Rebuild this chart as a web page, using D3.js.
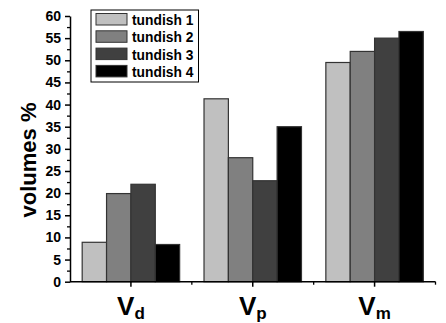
<!DOCTYPE html>
<html>
<head>
<meta charset="utf-8">
<script src="https://cdn.jsdelivr.net/npm/d3@7"></script>
<style>
  body { margin: 0; background: #fff; }
  text { font-family: Arial, "Liberation Sans", sans-serif; font-weight: bold; }
</style>
</head>
<body>
<div id="chart"></div>
<script>
// data
var categories = ["d", "p", "m"];           // subscripts of V
var series = ["tundish 1", "tundish 2", "tundish 3", "tundish 4"];
var tundish1 = [8.9, 41.3, 49.5];
var tundish2 = [19.9, 28.0, 52.0];
var tundish3 = [22.0, 22.8, 55.0];
var tundish4 = [8.4, 35.0, 56.5];
var yTicks = [0, 5, 10, 15, 20, 25, 30, 35, 40, 45, 50, 55, 60];
var colors = ["#c0c0c0", "#808080", "#404040", "#000000"];

var values = [tundish1, tundish2, tundish3, tundish4];

var W = 446, H = 323;
var plotLeft = 70, plotRight = 435.5, plotTop = 16, plotBottom = 281.7;

var svg = d3.select("#chart").append("svg")
  .attr("width", W).attr("height", H);

var x = d3.scaleBand().domain(categories).range([plotLeft, plotRight]).padding(0);
var xs = d3.scaleBand().domain(series).range([0, x.bandwidth()]).paddingInner(0).paddingOuter(0.5);
var y = d3.scaleLinear().domain([0, 60]).range([plotBottom, plotTop]);

// bars
categories.forEach(function(c, ci) {
  var g = svg.append("g").attr("transform", "translate(" + x(c) + ",0)");
  g.selectAll("rect")
    .data(series)
    .enter().append("rect")
      .attr("x", function(s) { return xs(s); })
      .attr("y", function(s, i) { return y(values[i][ci]); })
      .attr("width", xs.bandwidth())
      .attr("height", function(s, i) { return plotBottom - y(values[i][ci]); })
      .attr("fill", function(s, i) { return colors[i]; })
      .attr("stroke", "#333")
      .attr("stroke-width", 1.2);
});

// y axis
var yMinor = d3.range(2.5, 60, 5);
svg.append("g")
  .attr("transform", "translate(" + plotLeft + ",0)")
  .call(d3.axisLeft(y).tickValues(yMinor).tickSize(3).tickFormat(""))
  .call(function(g) { g.select(".domain").remove(); })
  .selectAll("line").attr("stroke-width", 1.3);
var yAxis = svg.append("g")
  .attr("transform", "translate(" + plotLeft + ",0)")
  .call(d3.axisLeft(y).tickValues(yTicks).tickSize(5).tickPadding(4).tickSizeOuter(0));
yAxis.select(".domain").attr("stroke-width", 1.5);
yAxis.selectAll("line").attr("stroke-width", 1.5);
yAxis.selectAll("text").attr("font-size", 14).attr("font-weight", "bold")
  .attr("font-family", "Arial, 'Liberation Sans', sans-serif");

// x axis
var xAxis = svg.append("g").attr("transform", "translate(0," + plotBottom + ")");
xAxis.append("line").attr("x1", plotLeft).attr("x2", plotRight)
  .attr("stroke", "#000").attr("stroke-width", 1.5);
xAxis.selectAll(".maj").data(categories).enter().append("line")
  .attr("x1", function(c) { return x(c) + x.bandwidth() / 2; })
  .attr("x2", function(c) { return x(c) + x.bandwidth() / 2; })
  .attr("y1", 0).attr("y2", 5)
  .attr("stroke", "#000").attr("stroke-width", 1.5);
xAxis.selectAll(".min").data(categories.slice(1).concat(["end"])).enter().append("line")
  .attr("x1", function(c) { return c === "end" ? plotRight : x(c); })
  .attr("x2", function(c) { return c === "end" ? plotRight : x(c); })
  .attr("y1", 0).attr("y2", 3)
  .attr("stroke", "#000").attr("stroke-width", 1.3);

// category labels V with subscript
var lab = xAxis.selectAll(".lab").data(categories).enter().append("text")
  .attr("x", function(c) { return x(c) + x.bandwidth() / 2; })
  .attr("y", 33)
  .attr("text-anchor", "middle")
  .attr("font-size", 26);
lab.append("tspan").text("V");
lab.append("tspan").attr("font-size", 17).attr("dy", 4).text(function(c) { return c; });

// y title
svg.append("text")
  .attr("transform", "translate(35.5,160) rotate(-90)")
  .attr("text-anchor", "middle")
  .attr("font-size", 22)
  .text("volumes %");

// legend
var legend = svg.append("g").attr("transform", "translate(91,10)");
legend.append("rect").attr("width", 107.5).attr("height", 72)
  .attr("fill", "#fff").attr("stroke", "#000").attr("stroke-width", 1);
var item = legend.selectAll(".item").data(series).enter().append("g")
  .attr("transform", function(s, i) { return "translate(5," + (3.5 + i * 17.3) + ")"; });
item.append("rect").attr("width", 31).attr("height", 11.5)
  .attr("fill", function(s, i) { return colors[i]; })
  .attr("stroke", "#333").attr("stroke-width", 1);
item.append("text").attr("x", 36).attr("y", 11.5).attr("font-size", 13.8)
  .text(function(s) { return s; });
</script>
</body>
</html>
